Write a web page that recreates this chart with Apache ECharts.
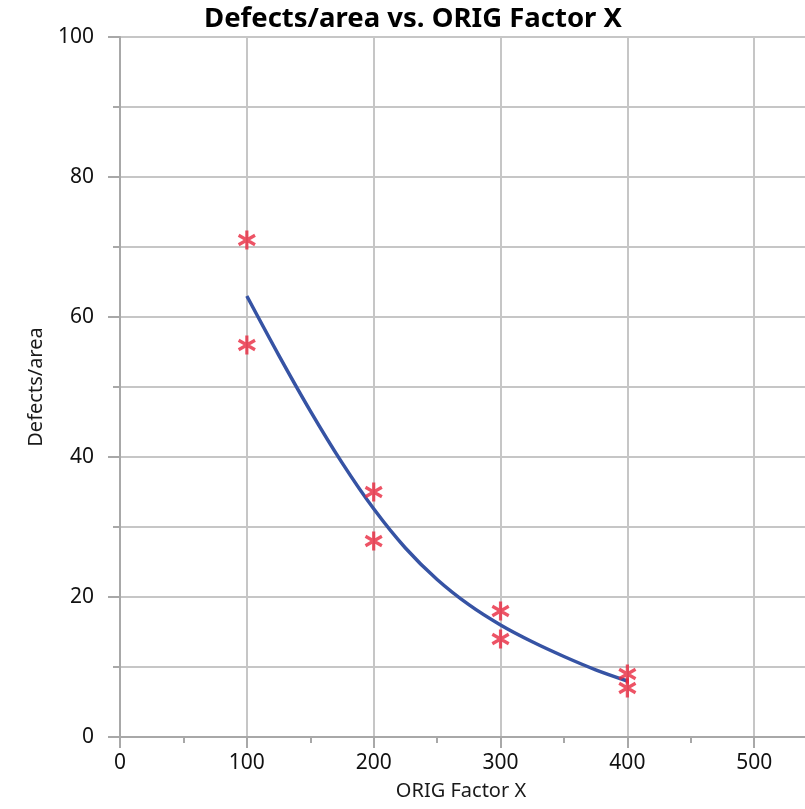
<!DOCTYPE html>
<html>
<head>
<meta charset="utf-8">
<script src="https://cdn.jsdelivr.net/npm/echarts@6/dist/echarts.min.js"></script>
<style>html,body{margin:0;padding:0;background:#fff;overflow:hidden;}#c{width:805px;height:809px;}</style>
</head>
<body>
<div id="c"></div>
<script>
const chartTitle = 'Defects/area vs. ORIG Factor X';
const xName = 'ORIG Factor X';
const yName = 'Defects/area';
const scatterX = [100, 100, 200, 200, 300, 300, 400, 400];
const scatterY = [71, 56, 35, 28, 18, 14, 9, 7];
const fitX = [100, 125, 150, 175, 200, 225, 250, 275, 300, 325, 350, 375, 400];
const fitY = [63, 54.6, 46.6, 39.2, 32.6, 27.0, 22.5, 18.9, 16.0, 13.6, 11.5, 9.6, 8.0];

const FONT = '"Noto Sans", "Open Sans", sans-serif';
const STAR = 'path://M-1.7,-10L1.7,-10L1.7,10L-1.7,10Z' +
  'M-9.51,-3.53L-7.81,-6.47L9.51,3.53L7.81,6.47Z' +
  'M7.81,-6.47L9.51,-3.53L-7.81,6.47L-9.51,3.53Z';

const chart = echarts.init(document.getElementById('c'), null, {renderer: 'canvas'});
chart.setOption({
  animation: false,
  backgroundColor: '#ffffff',
  title: {
    text: chartTitle,
    left: 408, top: 0, textAlign: 'center',
    textStyle: {fontFamily: FONT, fontWeight: 'bold', fontSize: 27.5, color: '#000'}
  },
  grid: {left: 120, right: -3, top: 37, bottom: 72, containLabel: false, outerBoundsMode: 'none'},
  xAxis: {
    type: 'value', min: 0, max: 542.4, interval: 100,
    name: xName, nameLocation: 'middle', nameGap: 44,
    nameTextStyle: {fontFamily: FONT, fontSize: 20, color: '#1a1a1a', padding: [0, 6, 0, 0]},
    axisLine: {show: true, onZero: false, lineStyle: {color: '#a8a8a8', width: 2}},
    axisTick: {show: true, length: 11, lineStyle: {color: '#a8a8a8', width: 2}},
    minorTick: {show: true, splitNumber: 2, length: 6, lineStyle: {color: '#a8a8a8', width: 2}},
    axisLabel: {
      margin: 16, fontFamily: FONT, fontSize: 21, color: '#111',
      formatter: v => (v % 100 === 0 ? String(v) : '')
    },
    splitLine: {show: true, lineStyle: {color: '#c6c6c6', width: 2}},
    minorSplitLine: {show: false}
  },
  yAxis: {
    type: 'value', min: 0, max: 100, interval: 20,
    name: yName, nameLocation: 'middle', nameGap: 74,
    nameTextStyle: {fontFamily: FONT, fontSize: 20, color: '#1a1a1a'},
    axisLine: {show: true, onZero: false, lineStyle: {color: '#a8a8a8', width: 2}},
    axisTick: {show: true, length: 12, lineStyle: {color: '#a8a8a8', width: 2}},
    minorTick: {show: true, splitNumber: 2, length: 7, lineStyle: {color: '#a8a8a8', width: 2}},
    axisLabel: {margin: 26, fontFamily: FONT, fontSize: 21, color: '#111'},
    splitLine: {show: true, lineStyle: {color: '#c6c6c6', width: 2}},
    minorSplitLine: {show: true, lineStyle: {color: '#c6c6c6', width: 2}}
  },
  series: [
    {
      type: 'line',
      data: fitX.map((x, i) => [x, fitY[i]]),
      smooth: 0.3,
      showSymbol: false,
      lineStyle: {color: '#3653a4', width: 3.5},
      z: 3
    },
    {
      type: 'scatter',
      data: scatterX.map((x, i) => [x, scatterY[i]]),
      symbol: STAR,
      symbolSize: [18, 19],
      itemStyle: {color: '#e8283f'},
      z: 4
    }
  ]
});
</script>
</body>
</html>
